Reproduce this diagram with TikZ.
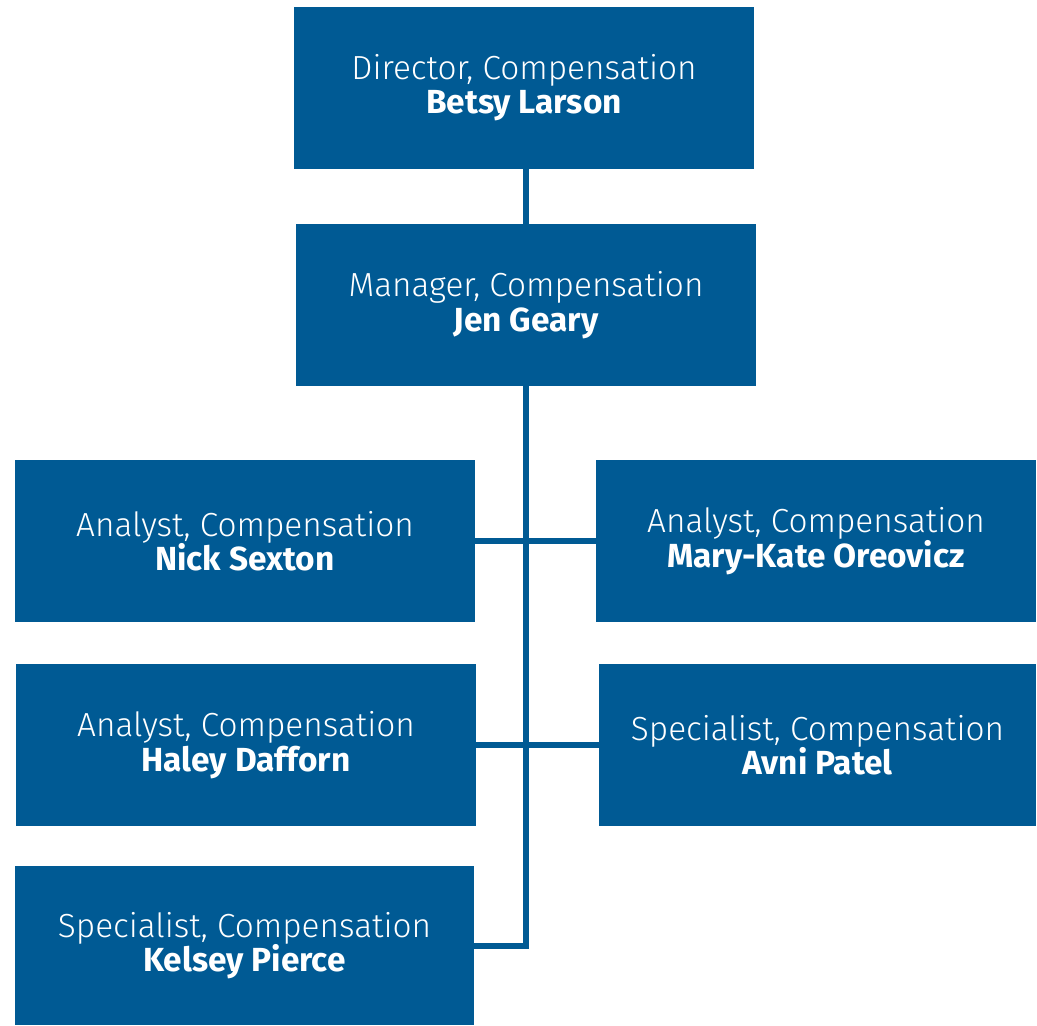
\documentclass[tikz,border=0pt]{standalone}
\usepackage{fontspec}
\setmainfont{Fira Sans}[UprightFont=* Light, BoldFont=* Bold]
\definecolor{orgblue}{RGB}{0,90,148}
\begin{document}
\begin{tikzpicture}[x=0.02cm, y=-0.02cm,
  post/.style={fill=orgblue, text=white, align=center, inner sep=0pt,
    minimum width=460*0.02cm, minimum height=162*0.02cm,
    font=\fontsize{19}{19.5}\selectfont},
  link/.style={draw=orgblue, line width=0.12cm}]
\useasboundingbox (0,0) rectangle (1037,1025);
\node (D) [post] at (524,87.5) {Director, Compensation\\\textbf{Betsy Larson}};
\node (M) [post] at (526,305) {Manager, Compensation\\\textbf{Jen Geary}};
\node (N) [post] at (245,541) {Analyst, Compensation\\\textbf{Nick Sexton}};
\node (MK) [post, minimum width=440*0.02cm] at (816,541) {Analyst, Compensation\\\textbf{Mary-Kate Oreovicz}};
\node (H) [post] at (246,745) {Analyst, Compensation\\\textbf{Haley Dafforn}};
\node (A) [post, minimum width=437*0.02cm] at (817.5,745) {Specialist, Compensation\\\textbf{Avni Patel}};
\node (K) [post, minimum width=459*0.02cm, minimum height=159*0.02cm] at (244.5,945.5) {Specialist, Compensation\\\textbf{Kelsey Pierce}};
\draw[link] (M.north) -- (M.north |- D.south);
\draw[link] (M.south) |- (K.east);
\draw[link] (N) -- (MK);
\draw[link] (H) -- (A);
\end{tikzpicture}
\end{document}
